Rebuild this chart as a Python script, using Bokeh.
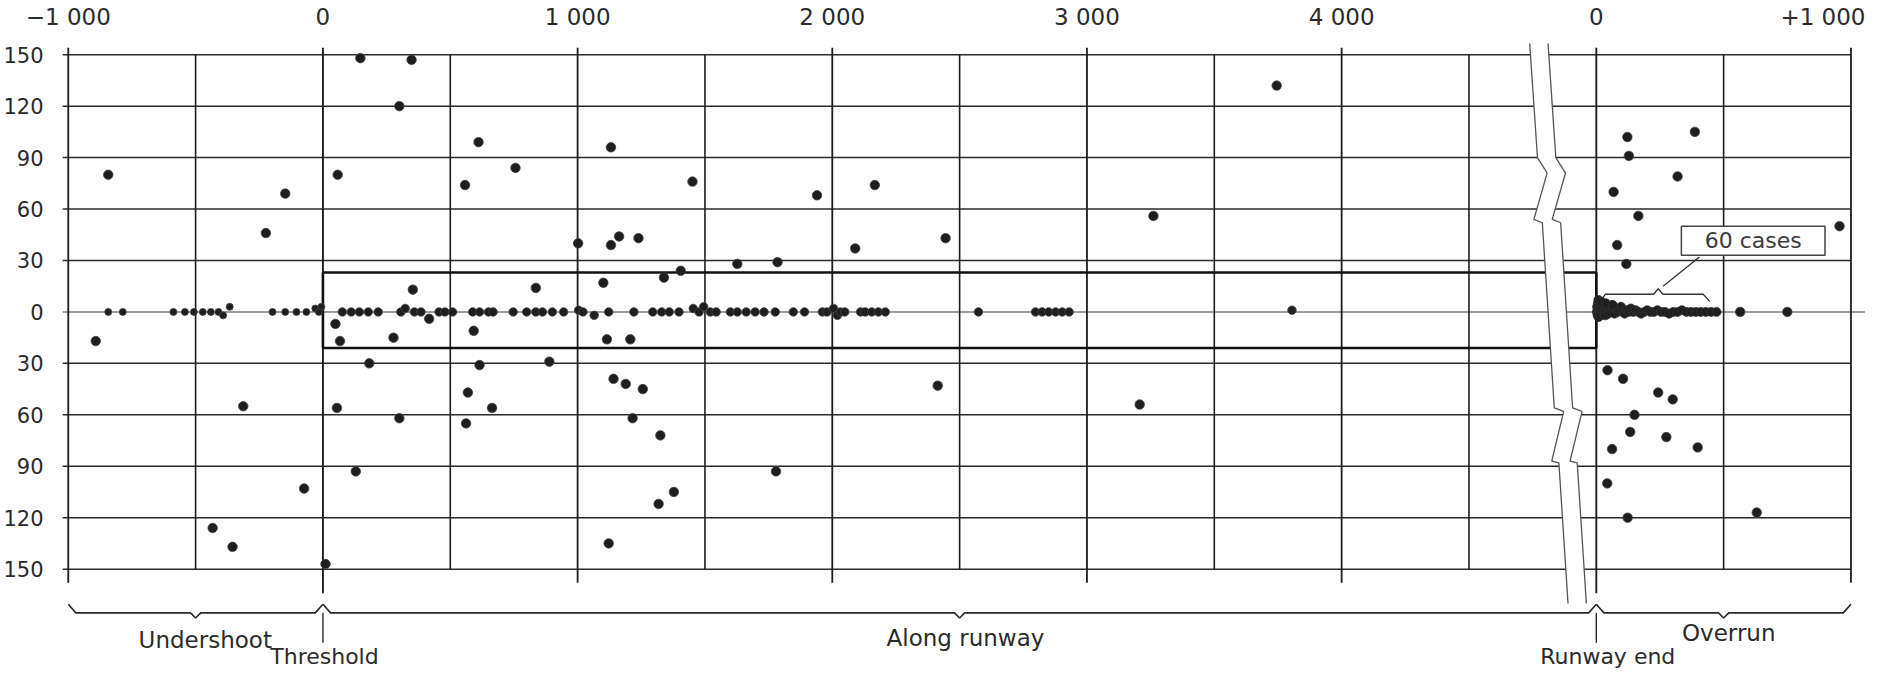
from bokeh.plotting import figure
from bokeh.models import Range1d, LinearAxis, FixedTicker
from bokeh.core.properties import value
from bokeh.embed import file_html
from bokeh.resources import INLINE

# ------------------------------------------------------------------ data
# top scale: along-runway distance (m) from threshold, then from runway end
top_tick_values = [-1000, 0, 1000, 2000, 3000, 4000, 5000, 6000]
top_tick_labels = ["\u22121 000", "0", "1 000", "2 000", "3 000", "4 000", "0", "+1 000"]
# left scale: lateral distance (m) from centreline
lat_ticks = [-150, -120, -90, -60, -30, 0, 30, 60, 90, 120, 150]
lat_labels = ["150", "120", "90", "60", "30", "0", "30", "60", "90", "120", "150"]

# grid positions (m)
along_major = [-1000, 1000, 2000, 3000, 4000]
along_minor = [-500, 500, 1500, 2500, 3500, 4500]
over_major = [1000]
over_minor = [500]
datum_lines_along = [0]      # threshold
datum_lines_over = [0]       # runway end

# runway strip (lateral extent, m)
runway_top = 23
runway_bottom = -21

# off-centreline accidents, measured from threshold
off_x = [-843, -892, -224, -148, -313, -433, -355, -74, 10,
         147, 348, 300, 58, 558, 611, 756, 1131, 1451, 1002,
         1131, 1163, 1239, 1339, 1405, 1101, 836, 353,
         1940, 2167, 2090, 2445, 1627, 1785, 3261, 3745,
         49, 67, 277, 417, 592, 1115, 1207, 182, 55, 300,
         129, 615, 569, 562, 664, 889, 1141, 1189, 1256, 1216,
         1325, 1378, 1318, 1122, 1779, 2414, 3207]
off_y = [80, -17, 46, 69, -55, -126, -137, -103, -147,
         148, 147, 120, 80, 74, 99, 84, 96, 76, 40,
         39, 44, 43, 20, 24, 17, 14, 13,
         68, 74, 37, 43, 28, 29, 56, 132,
         -7, -17, -15, -4, -11, -16, -16, -30, -56, -62,
         -93, -31, -47, -65, -56, -29, -39, -42, -45, -62,
         -72, -105, -112, -135, -93, -43, -54]

# centreline accidents in the undershoot area
under_cl_x = [-843, -786, -587, -542, -507, -472, -440, -410, -392, -366,
              -198, -148, -104, -65, -30, -16, -6]
under_cl_y = [0, 0, 0, 0, 0, 0, 0, 0, -2, 3,
              0, 0, 0, 0, 2, 0, 3]

# centreline accidents along the runway
run_cl_x = [76, 111, 143, 178, 217, 306, 323, 359, 385, 456,
            479, 509, 588, 615, 650, 668, 747, 800, 836, 862,
            901, 945, 1004, 1021, 1065, 1122, 1221, 1295, 1330, 1360,
            1398, 1454, 1477, 1495, 1521, 1544, 1600, 1627, 1662, 1697,
            1732, 1776, 1847, 1891, 1961, 1979, 2005, 2020, 2032, 2049,
            2111, 2129, 2155, 2181, 2208, 2574, 2798, 2824, 2850, 2877,
            2903, 2930, 3805]
run_cl_y = [0, 0, 0, 0, 0, 0, 2, 0, 0, 0,
            0, 0, 0, 0, 0, 0, 0, 0, 0, 0,
            0, 0, 1, 0, -2, 0, 0, 0, 0, 0,
            0, 2, 0, 3, 0, 0, 0, 0, 0, 0,
            0, 0, 0, 0, 0, 0, 2, -2, 0, 0,
            0, 0, 0, 0, 0, 0, 0, 0, 0, 0,
            0, 0, 1]

# overrun accidents, measured from runway end
over_x = [122, 387, 128, 319, 68, 165, 82, 118, 955,
          44, 105, 243, 300, 150, 133, 275, 398, 62, 43, 123, 630,
          565, 750]
over_y = [102, 105, 91, 79, 70, 56, 39, 28, 50,
          -34, -39, -47, -51, -60, -70, -73, -79, -80, -100, -120, -117,
          0, 0]

# the "60 cases" cluster just past the runway end
cluster_x = [2, 3, 5, 6, 8, 9, 11, 13, 15, 17,
             19, 21, 24, 27, 30, 33, 36, 40, 44, 48,
             52, 57, 62, 67, 72, 78, 84, 90, 97, 104,
             111, 119, 127, 136, 145, 155, 165, 176, 188, 200,
             213, 226, 240, 255, 270, 286, 302, 319, 336, 354,
             372, 391, 410, 430, 451, 472, 8, 20, 38, 65]
cluster_y = [0, 3, -2, 5, 1, -3, 4, 0, 2, -2,
             5, 1, 3, -1, 4, 0, -2, 3, 1, -1,
             2, 0, 4, 1, -1, 2, 0, 1, 3, 0,
             -1, 1, 0, 2, 0, 1, 0, -1, 0, 1,
             0, 0, 1, 0, 0, -1, 0, 0, 1, 0,
             0, 0, 0, 0, 0, 0, 7, 6, 5, 4]
cluster_label = "60 cases"

# zone labels
zones = ["Undershoot", "Along runway", "Overrun"]
datum_names = ["Threshold", "Runway end"]

# ------------------------------------------------------------------ layout
W, H = 1865, 670
LEFT_B, TOP_B = 52, 36
RIGHT_INSET, BOTTOM_INSET = 8, 8     # space the page keeps at right / bottom
PAGE_OFF = 8
X0_PX, PX_PER_M = 325.0, 0.25425
Y0_PX, PX_PER_LAT = 312.0, 1.712
RUNWAY_END = 5000          # drawing position of the runway-end datum (axis break)

x_start = (PAGE_OFF + LEFT_B - X0_PX) / PX_PER_M
x_end = (PAGE_OFF + W - RIGHT_INSET - X0_PX) / PX_PER_M
y_end = (Y0_PX - (PAGE_OFF + TOP_B)) / PX_PER_LAT
y_start = (Y0_PX - (PAGE_OFF + H - BOTTOM_INSET)) / PX_PER_LAT

FONT = "DejaVu Sans"
TXT = "#2b2b2b"
INK = "#1e1e1e"

p = figure(width=W, height=H, x_range=Range1d(x_start, x_end),
           y_range=Range1d(y_start, y_end), output_backend="svg",
           toolbar_location=None, x_axis_location=None, y_axis_location=None,
           min_border=0, min_border_left=LEFT_B, min_border_top=TOP_B,
           min_border_right=0, min_border_bottom=0,
           background_fill_color="white", border_fill_color="white")
p.outline_line_color = None
p.grid.visible = False

def ov(xs):
    return [RUNWAY_END + v for v in xs]

g_top = 154
g_bot_major = -158
g_bot_datum = -164
g_lim = max(lat_ticks)
x_left_stub = min(along_major) - 22
x_right_edge = RUNWAY_END + max(over_major)

# horizontal grid lines
hy = [t for t in lat_ticks if t != 0]
p.segment(x0=[x_left_stub] * len(hy), y0=hy, x1=[x_right_edge] * len(hy), y1=hy,
          line_color="#2a2a2a", line_width=1.5)
# centreline
p.segment(x0=[x_left_stub], y0=[0], x1=[x_end], y1=[0], line_color="#3a3a3a", line_width=1.1)

# vertical grid lines
mj = along_major + ov(over_major)
p.segment(x0=mj, y0=[g_bot_major] * len(mj), x1=mj, y1=[g_top] * len(mj),
          line_color=INK, line_width=1.8)
mn = along_minor + ov(over_minor)
p.segment(x0=mn, y0=[-g_lim] * len(mn), x1=mn, y1=[g_lim] * len(mn),
          line_color=INK, line_width=1.6)
dl = datum_lines_along + ov(datum_lines_over)
p.segment(x0=dl, y0=[g_bot_datum] * len(dl), x1=dl, y1=[g_top] * len(dl),
          line_color=INK, line_width=1.9)

# runway strip
p.quad(left=[0], right=[RUNWAY_END], bottom=[runway_bottom], top=[runway_top],
       fill_color=None, line_color="#111111", line_width=2.6)

# axis break (white band with zig-zag outlines)
brk_y = [175, 90, 81, 54, 52, -56, -58, -87, -88, -170]
brk_lx = [4730, 4769, 4807, 4755, 4788, 4835, 4872, 4825, 4853, 4889]
band = 72
brk_rx = [v + band for v in brk_lx]
p.patch(brk_lx + brk_rx[::-1], brk_y + brk_y[::-1], fill_color="white", line_color=None)
p.line(brk_lx, brk_y, line_color="#555555", line_width=1.3)
p.line(brk_rx, brk_y, line_color="#555555", line_width=1.3)

# braces under the chart
yb = -175.5
def brace(a, b):
    m = (a + b) / 2.0
    r, c = 30, 20
    return ([a, a + r, m - c, m, m + c, b - r, b],
            [yb + 5, yb, yb, yb - 3, yb, yb, yb + 5])
spans = [(-1000, 0), (0, RUNWAY_END), (RUNWAY_END, RUNWAY_END + 1000)]
for a, b in spans:
    bx, by = brace(a, b)
    p.line(bx, by, line_color="#2a2a2a", line_width=1.6)
dat = [0, RUNWAY_END]
p.segment(x0=dat, y0=[yb] * 2, x1=dat, y1=[-193] * 2, line_color="#2a2a2a", line_width=1.4)

p.text(x=[-462, 2523, RUNWAY_END + 520], y=[-191.5, -190, -187.5], text=zones,
       text_font=value(FONT), text_font_size="23px", text_color=TXT,
       text_align="center", text_baseline="middle")
p.text(x=[6, RUNWAY_END + 45], y=[-200.7, -200.7], text=datum_names,
       text_font=value(FONT), text_font_size="22px", text_color=TXT,
       text_align="center", text_baseline="middle")

# "60 cases" box, leader and bracket
p.quad(left=[RUNWAY_END + 334], right=[RUNWAY_END + 898], bottom=[33], top=[50],
       fill_color="white", line_color="#444444", line_width=1.5)
p.text(x=[RUNWAY_END + 616], y=[41.5], text=[cluster_label], text_font=value(FONT),
       text_font_size="22px", text_color="#3a3a3a", text_align="center",
       text_baseline="middle")
p.line(ov([405, 262]), [32, 15], line_color="#333333", line_width=1.3)
p.line(ov([20, 35, 225, 243, 262, 420, 446]), [7, 10.3, 10.3, 13.5, 10.3, 10.3, 6],
       line_color="#333333", line_width=1.3)

# accidents
p.scatter(under_cl_x, under_cl_y, size=7, marker="circle", fill_color=INK,
          line_color="#444444", line_width=0.8)
p.scatter(run_cl_x, run_cl_y, size=8.5, marker="circle", fill_color=INK,
          line_color="#444444", line_width=0.8)
p.scatter(off_x, off_y, size=9.5, marker="circle", fill_color=INK,
          line_color="#444444", line_width=0.8)
p.scatter(ov(over_x), over_y, size=9.5, marker="circle", fill_color=INK,
          line_color="#444444", line_width=0.8)
p.scatter(ov(cluster_x), cluster_y, size=9, marker="circle", fill_color=INK,
          line_color="#333333", line_width=0.8)

# axes
ax_top = LinearAxis(ticker=FixedTicker(ticks=top_tick_values),
                    major_label_overrides={v: l for v, l in zip(top_tick_values, top_tick_labels)},
                    axis_line_color=None, major_tick_line_color=None,
                    minor_tick_line_color=None, major_label_standoff=8,
                    major_label_text_font=FONT, major_label_text_font_size="23px",
                    major_label_text_color=TXT)
p.add_layout(ax_top, "above")
ax_left = LinearAxis(ticker=FixedTicker(ticks=lat_ticks),
                     major_label_overrides={v: l for v, l in zip(lat_ticks, lat_labels)},
                     axis_line_color=None, major_tick_line_color=None,
                     minor_tick_line_color=None, major_label_standoff=8,
                     major_label_text_font=FONT, major_label_text_font_size="21px",
                     major_label_text_color=TXT)
p.add_layout(ax_left, "left")

open("out.html", "w").write(file_html(p, INLINE))
